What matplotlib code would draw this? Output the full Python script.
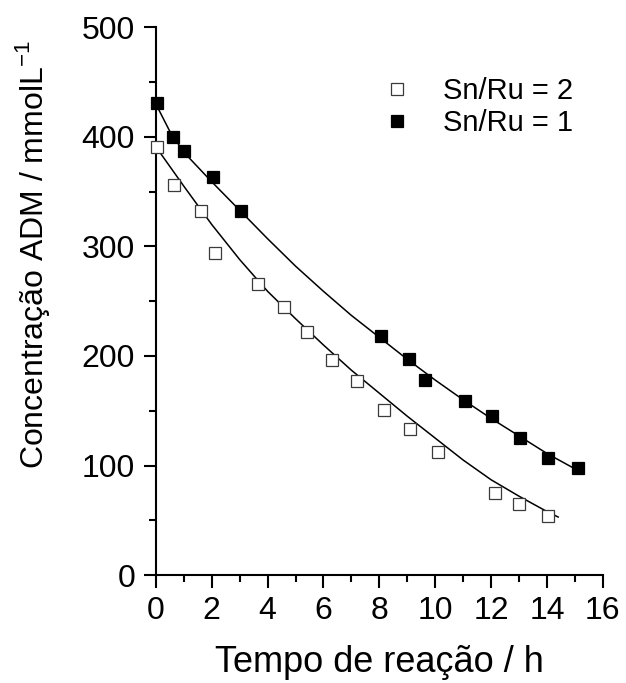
import matplotlib

matplotlib.use("Agg")

import matplotlib.pyplot as plt
from matplotlib.ticker import MultipleLocator

# measured points
t_ru2 = [0.05, 0.65, 1.6, 2.1, 3.65, 4.6, 5.4, 6.3, 7.2, 8.15, 9.1, 10.1, 12.15, 13.0, 14.05]
c_ru2 = [391, 356, 332, 294, 266, 245, 222, 196, 177, 151, 133, 112, 75, 65, 54]

t_ru1 = [0.05, 0.6, 1.0, 2.05, 3.05, 8.05, 9.05, 9.65, 11.05, 12.05, 13.05, 14.05, 15.1]
c_ru1 = [431, 400, 387, 363, 332, 218, 197, 178, 159, 145, 125, 107, 98]

# fitted curves
fit_t_ru2 = [0, 0.5, 1, 2, 3, 4, 5, 6, 7, 8, 9, 10, 11, 12, 13, 14, 14.4]
fit_c_ru2 = [391, 373, 355, 320, 288, 259, 234, 210, 187, 166, 145, 125, 105, 87, 72, 58, 53]

fit_t_ru1 = [0, 0.5, 1, 2, 3, 4, 5, 6, 7, 8, 9, 10, 11, 12, 13, 14, 15]
fit_c_ru1 = [430, 405, 386, 359, 333, 307, 282, 259, 237, 217, 197, 178, 160, 143, 127, 111, 97]

labels = ["Sn/Ru = 2", "Sn/Ru = 1"]

plt.rcParams["font.family"] = ["Liberation Sans", "DejaVu Sans"]

fig = plt.figure(figsize=(6.26, 6.83), dpi=100)
ax = fig.add_axes([0.249, 0.158, 0.714, 0.802])

ax.plot(fit_t_ru2, fit_c_ru2, color="black", lw=1.1, zorder=2)
ax.plot(fit_t_ru1, fit_c_ru1, color="black", lw=1.1, zorder=2)
ax.plot(t_ru2, c_ru2, ls="none", marker="s", ms=9, mfc="white", mec="#3a3a3a", mew=0.9,
        label=labels[0], clip_on=False, zorder=3)
ax.plot(t_ru1, c_ru1, ls="none", marker="s", ms=9, mfc="black", mec="black", mew=0.9,
        label=labels[1], clip_on=False, zorder=3)

ax.set_xlim(0, 16)
ax.set_ylim(0, 500)
ax.xaxis.set_major_locator(MultipleLocator(2))
ax.xaxis.set_minor_locator(MultipleLocator(1))
ax.yaxis.set_major_locator(MultipleLocator(100))
ax.yaxis.set_minor_locator(MultipleLocator(50))

for side in ("top", "right"):
    ax.spines[side].set_visible(False)
for side in ("left", "bottom"):
    ax.spines[side].set_linewidth(1.5)

ax.tick_params(which="major", direction="out", length=9, width=1.5, labelsize=23, pad=6)
ax.tick_params(which="minor", direction="out", length=5, width=1.5)

fig.text(0.052, 1 - 255 / 683, r"Concentração ADM / mmolL$^{\mathregular{-1}}$", rotation=90,
         ha="center", va="center", fontsize=23)
fig.text(0.606, 0.0165, "Tempo de reação / h", ha="center", va="baseline", fontsize=26)

ax.legend(loc="upper left", bbox_to_anchor=(368 / 626, 1 - 77 / 683),
          bbox_transform=fig.transFigure, frameon=False, fontsize=21,
          borderpad=0, borderaxespad=0, labelspacing=0.15, handletextpad=0.58,
          handlelength=2.0)

fig.savefig("out.png", dpi=100)
